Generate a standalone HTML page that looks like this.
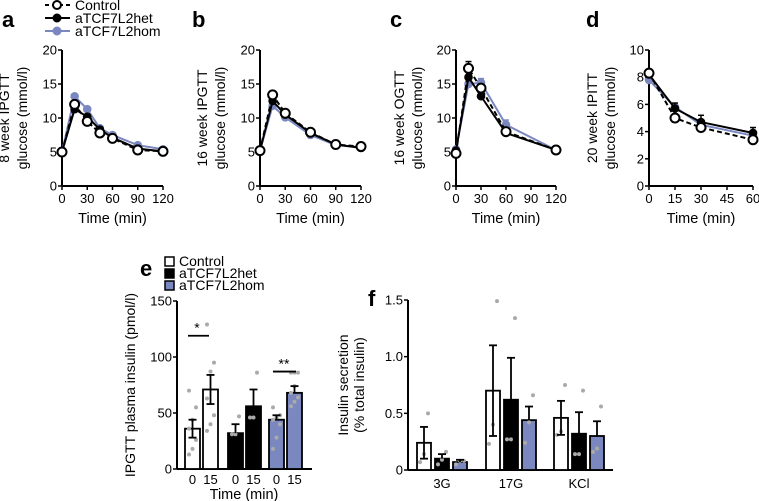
<!DOCTYPE html>
<html><head><meta charset="utf-8"><style>
html,body{margin:0;padding:0;background:#fff;}
svg{display:block;font-family:"Liberation Sans",Arial,sans-serif;}
</style></head><body>
<svg id="fig" width="759" height="501" viewBox="0 0 759 501" xmlns="http://www.w3.org/2000/svg"></svg>
<script>
// ---- data ----
const aTimes=[0,15,30,45,60,90,120];
const aControl=[5,12,9.5,7.8,7,5.3,5.1];
const aHet=[5,11.3,10.2,8.3,7.1,5.5,5.1];
const aHom=[5,13.2,11.3,8.5,7.5,6,5.4];
const bTimes=[0,15,30,60,90,120];
const bControl=[5.2,13.4,10.7,7.9,6.1,5.8];
const bHet=[5.2,12.5,10.5,7.8,6.1,5.6];
const bHom=[5.2,11.8,10.1,7.5,6.0,5.7];
const cTimes=[0,15,30,60,120];
const cControl=[4.8,17.3,14.4,8.0,5.3];
const cHet=[5.2,16,13.2,7.8,5.3];
const cHom=[5.4,15,15.2,9.0,5.3];
const cControlErr=[0,1.0,0.4,0.3,0.1];
const cHetErr=[0,0.8,0.5,0.3,0.1];
const cHomErr=[0,0.6,0.6,0.7,0.1];
const dTimes=[0,15,30,60];
const dControl=[8.3,5.0,4.3,3.4];
const dHet=[8.2,5.7,4.7,3.9];
const dHom=[7.8,5.8,4.5,3.7];
const dHetErr=[0,0.4,0.5,0.4];
const ticks120=[0,30,60,90,120];
const ticks60=[0,15,30,45,60];
const ticksG=[0,5,10,15,20];
const ticksD=[0,2,4,6,8,10];
const eMeans=[36,71,32,56,44,68];
const eErr=[8,13,8,15,4,6];
const eDots=[[13,18,26,36,44,55,70],[34,40,48,63,87,95,129],[31,31,47],[46,46,86],[18,28,40,44,46,48,55],[56,60,64,68,74,86,86,86]];
const eTicks=[0,50,100,150];
const fGroups=['3G','17G','KCl'];
const fControl=[0.24,0.70,0.46];
const fHet=[0.10,0.62,0.32];
const fHom=[0.07,0.44,0.30];
const fControlErr=[0.14,0.40,0.15];
const fHetErr=[0.04,0.37,0.19];
const fHomErr=[0.02,0.12,0.13];
const fDots=[[[0.07,0.14,0.5],[0.05,0.09,0.16],[0.05,0.08,0.08]],[[0.23,0.4,1.49],[0.27,0.27,1.34],[0.24,0.42,0.66]],[[0.31,0.34,0.75],[0.14,0.14,0.7],[0.16,0.19,0.56]]];
const fTicks=[0,0.5,1.0,1.5];
const fTickLabels=['0','0.5','1.0','1.5'];
const BLUE='#7b88c0',GREY='#aaaaaa';
const svg=document.getElementById('fig');
const NS='http://www.w3.org/2000/svg';
function el(tag,attrs,parent){const e=document.createElementNS(NS,tag);for(const k in attrs)e.setAttribute(k,attrs[k]);(parent||svg).appendChild(e);return e;}
function txt(s,x,y,attrs,parent){const t=el('text',Object.assign({x:x,y:y},attrs),parent);t.textContent=s;return t;}
function mk(x0,x1,xmax,y0,y1,ymax){return {sx:v=>x0+(x1-x0)*v/xmax,sy:v=>y0-(y0-y1)*v/ymax};}
function letter(s,x,y){const t=txt(s,x,y,{'font-size':22,'font-weight':'bold'});

}
function axes(g,ax,x0,x1,y0,y1,xt,xl,yt,yl,ylab1,ylab2,labx1,labx2){
 el('line',{x1:x0,y1:y0,x2:x1,y2:y0,stroke:'#000','stroke-width':2},g);
 el('line',{x1:x0,y1:y0,x2:x0,y2:y1,stroke:'#000','stroke-width':2},g);
 if(xt){xt.forEach((v,i)=>{const x=ax.sx(v);el('line',{x1:x,y1:y0,x2:x,y2:y0+4,stroke:'#000','stroke-width':1.5},g);txt(xl[i],x,y0+17,{'font-size':13,'text-anchor':'middle'},g);});}
 yt.forEach((v,i)=>{const y=ax.sy(v);el('line',{x1:x0-4,y1:y,x2:x0,y2:y,stroke:'#000','stroke-width':1.5},g);txt(yl[i],x0-5,y+4.5,{'font-size':13,'text-anchor':'end'},g);});
 const cy=(y0+y1)/2;
 const t1=txt(ylab1,labx1,cy,{'font-size':14,'text-anchor':'middle',transform:'rotate(-90 '+labx1+' '+cy+')'},g);
 
 
 if(ylab2){const t2=txt(ylab2,labx2,cy,{'font-size':14,'text-anchor':'middle',transform:'rotate(-90 '+labx2+' '+cy+')'},g);
 
 }
}
function series(g,ax,xs,ys,errs,color,fill,dash,name){
 if(errs){xs.forEach((v,i)=>{if(!errs[i])return;const x=ax.sx(v),y=ax.sy(ys[i]),ye=ax.sy(ys[i]+errs[i]);el('line',{x1:x,y1:y,x2:x,y2:ye,stroke:color,'stroke-width':1.5},g);el('line',{x1:x-3,y1:ye,x2:x+3,y2:ye,stroke:color,'stroke-width':1.5},g);});}
 const p=el('polyline',{points:xs.map((v,i)=>ax.sx(v)+','+ax.sy(ys[i])).join(' '),fill:'none',stroke:color,'stroke-width':2,'stroke-dasharray':dash||'none'},g);
 
 
 xs.forEach((v,i)=>{const c=el('circle',{cx:ax.sx(v),cy:ax.sy(ys[i]),r:fill==='#fff'?4.5:3.8,fill:fill,stroke:color,'stroke-width':fill==='#fff'?2:1},g);
 
 });
}
function linePanel(id,L,x0,x1,xmax,y0,y1,ymax,xt,yt,lab1,times,ctrl,het,hom,cE,hE,oE,letterX,labx){
 const g=el('g',{});
 
 
 const ax=mk(x0,x1,xmax,y0,y1,ymax);
 axes(g,ax,x0,x1,y0,y1,xt,xt.map(String),yt,yt.map(String),lab1,'glucose (mmol/l)',labx,labx+18);
 const xl=txt('Time (min)',(x0+x1)/2,y0+37,{'font-size':14.5,'text-anchor':'middle'},g);
 
 
 series(g,ax,times,hom,oE,BLUE,BLUE,null,'hom');
 series(g,ax,times,het,hE,'#000','#000',null,'het');
 series(g,ax,times,ctrl,cE,'#000','#fff','5,3','control');
 letter(L,letterX,27);
}
linePanel('a','a',62,163,120,186,50,20,ticks120,ticksG,'8 week IPGTT',aTimes,aControl,aHet,aHom,null,null,null,2,9);
linePanel('b','b',260,361,120,186,50,20,ticks120,ticksG,'16 week IPGTT',bTimes,bControl,bHet,bHom,null,null,null,192,207);
linePanel('c','c',456,556,120,186,50,20,ticks120,ticksG,'16 week OGTT',cTimes,cControl,cHet,cHom,cControlErr,cHetErr,cHomErr,390,404);
linePanel('d','d',649,753,60,186,50,10,ticks60,ticksD,'20 week IPITT',dTimes,dControl,dHet,dHom,null,dHetErr,null,586,597);
// legend top
(function(){const g=el('g',{});
 
 
 const items=[['Control','#000','#fff','4,3'],['aTCF7L2het','#000','#000',null],['aTCF7L2hom',BLUE,BLUE,null]];
 items.forEach((it,i)=>{const y=5+i*13;const e=el('g',{},g);
 
 
 el('line',{x1:45,y1:y,x2:70,y2:y,stroke:it[1],'stroke-width':2,'stroke-dasharray':it[3]||'none'},e);
 el('circle',{cx:57,cy:y,r:it[2]==='#fff'?4:3.5,fill:it[2],stroke:it[1],'stroke-width':2},e);
 txt(it[0],75,y+5,{'font-size':14},e);});
})();
// panel e
(function(){const g=el('g',{});
 
 
 const x0=177,x1=312,y0=469,y1=301;const ax=mk(0,1,1,y0,y1,150);
 axes(g,ax,x0,x1,y0,y1,null,null,eTicks,eTicks.map(String),'IPGTT plasma insulin (pmol/l)',null,135,0);
 const lefts=[185,203,228,246,269,287];const fills=['#fff','#fff','#000','#000',BLUE,BLUE];const labs=['0','15','0','15','0','15'];
 eMeans.forEach((m,i)=>{const x=lefts[i],w=15,y=ax.sy(m);
 const r=el('rect',{x:x,y:y,width:w,height:y0-y,fill:fills[i],stroke:'#000','stroke-width':1.8},g);
 
 
 eDots[i].forEach((d,j)=>{el('circle',{cx:x+4+(j%3)*3.5,cy:ax.sy(d),r:2,fill:GREY},g);});
 const cx=x+w/2,yt=ax.sy(m+eErr[i]),yb=ax.sy(m-eErr[i]);
 el('line',{x1:cx,y1:fills[i]==='#fff'?yb:y,x2:cx,y2:yt,stroke:'#000','stroke-width':1.8},g);
 el('line',{x1:cx-4,y1:yt,x2:cx+4,y2:yt,stroke:'#000','stroke-width':1.8},g);
 if(fills[i]==='#fff'){el('line',{x1:cx-4,y1:yb,x2:cx+4,y2:yb,stroke:'#000','stroke-width':1.8},g);}
 txt(labs[i],x+w/2,y0+15,{'font-size':13,'text-anchor':'middle'},g);});
 el('line',{x1:188,y1:ax.sy(119),x2:209,y2:ax.sy(119),stroke:'#000','stroke-width':1.8},g);
 txt('*',197,ax.sy(119)-3,{'font-size':14,'text-anchor':'middle'},g);
 el('line',{x1:273,y1:ax.sy(87),x2:296,y2:ax.sy(87),stroke:'#000','stroke-width':1.8},g);
 txt('**',284,ax.sy(87)-3,{'font-size':14,'text-anchor':'middle'},g);
 const xt=txt('Time (min)',244,499,{'font-size':14.5,'text-anchor':'middle'},g);
 
 
 [['Control','#fff'],['aTCF7L2het','#000'],['aTCF7L2hom',BLUE]].forEach((it,i)=>{const y=257+i*12;const e=el('g',{},g);
 
 
 el('rect',{x:165,y:y,width:9,height:9,fill:it[1],stroke:'#000','stroke-width':1.5},e);
 txt(it[0],179,y+9,{'font-size':14},e);});
 letter('e',140,276);
})();
// panel f
(function(){const g=el('g',{});
 
 
 const x0=408,x1=613,y0=470,y1=300;const ax=mk(0,1,1,y0,y1,1.5);
 axes(g,ax,x0,x1,y0,y1,null,null,fTicks,fTickLabels,'Insulin secretion','(% total insulin)',348,364);
 const starts=[417,486,554];const vals=[fControl,fHet,fHom];const errs=[fControlErr,fHetErr,fHomErr];const fills=['#fff','#000',BLUE];
 fGroups.forEach((gname,gi)=>{for(let s=0;s<3;s++){const x=starts[gi]+s*18,w=14,m=vals[s][gi],y=ax.sy(m);
 const r=el('rect',{x:x,y:y,width:w,height:y0-y,fill:fills[s],stroke:'#000','stroke-width':1.8},g);
 
 
 fDots[gi][s].forEach((d,j)=>{el('circle',{cx:x+3+j*4,cy:ax.sy(d),r:2,fill:GREY},g);});
 const cx=x+w/2,yt=ax.sy(m+errs[s][gi]),yb=ax.sy(Math.max(0,m-errs[s][gi]));
 el('line',{x1:cx,y1:fills[s]==='#fff'?yb:y,x2:cx,y2:yt,stroke:'#000','stroke-width':1.8},g);
 el('line',{x1:cx-4,y1:yt,x2:cx+4,y2:yt,stroke:'#000','stroke-width':1.8},g);
 if(fills[s]==='#fff')el('line',{x1:cx-4,y1:yb,x2:cx+4,y2:yb,stroke:'#000','stroke-width':1.8},g);}
 const t=txt(gname,starts[gi]+25,488,{'font-size':13,'text-anchor':'middle'},g);
 
 });
 letter('f',368,306);
})();
</script>
</body></html>
